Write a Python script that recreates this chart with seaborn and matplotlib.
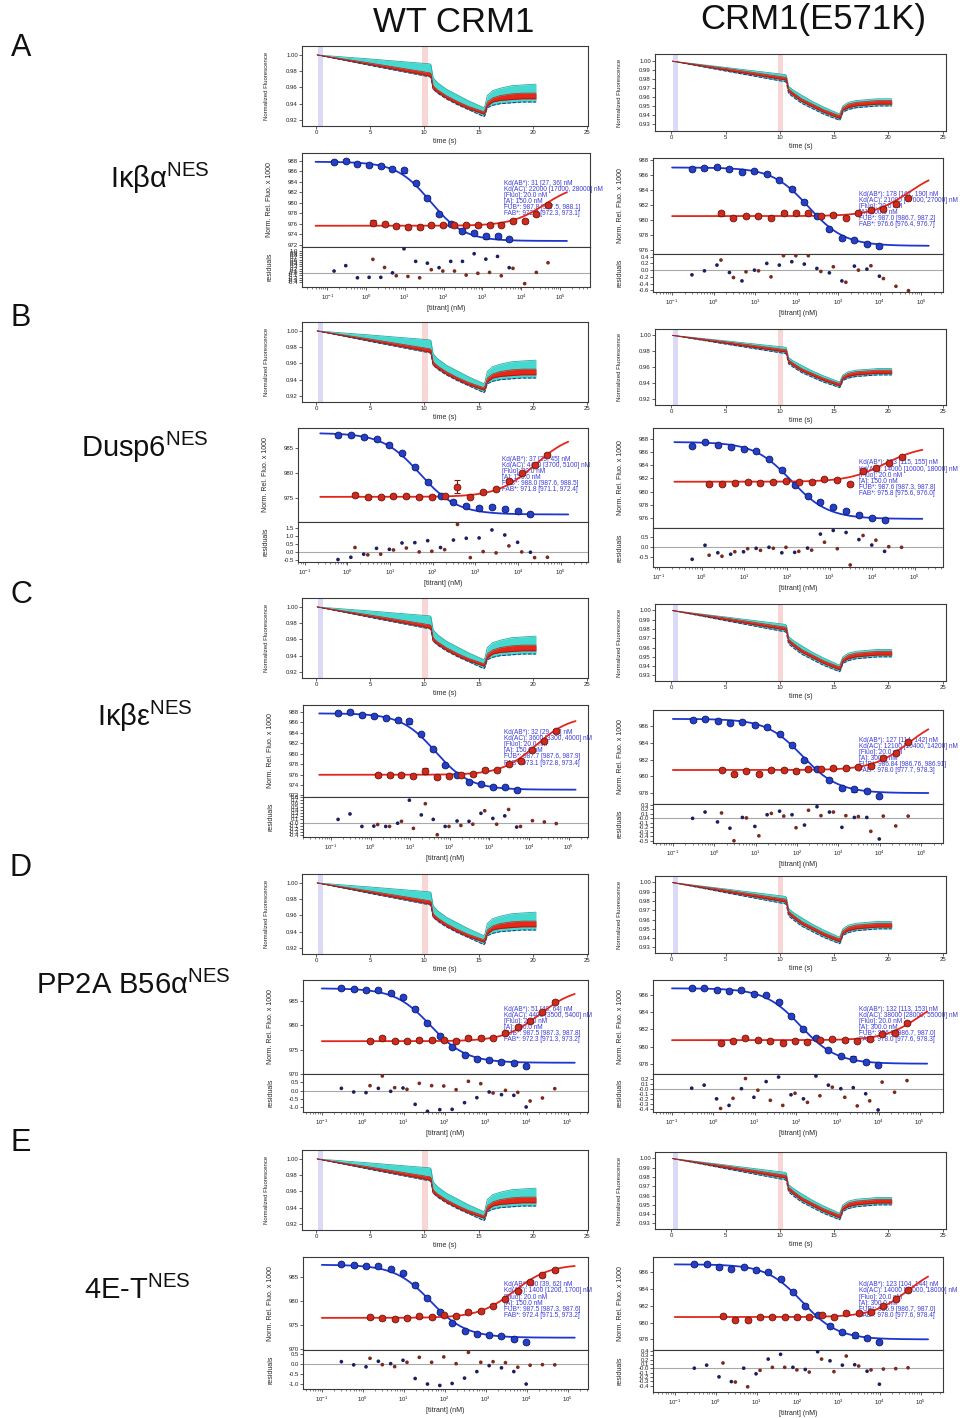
import numpy as np
import matplotlib
matplotlib.use("Agg")
import matplotlib.pyplot as plt
import matplotlib.ticker as mticker
import seaborn as sns

sns.set_theme(style="ticks")
plt.rcParams['font.family'] = ['Liberation Sans', 'DejaVu Sans']
plt.rcParams['mathtext.fontset'] = 'custom'
plt.rcParams['mathtext.rm'] = 'Liberation Sans'
plt.rcParams['mathtext.it'] = 'Liberation Sans:italic'
plt.rcParams['mathtext.bf'] = 'Liberation Sans:bold'

# ---------------- titration concentrations (nM) ----------------
conc_blue_lo = [0.15, 0.3, 0.6, 1.2, 2.4, 4.8, 9.5, 19, 38, 76, 152, 305, 610, 1220, 2440, 4880]
conc_blue_mid = [0.3, 0.6, 1.2, 2.4, 4.8, 9.6, 19, 38, 76, 152, 305, 610, 1220, 2440, 4880, 9760]
conc_blue_hi = [0.6, 1.2, 2.4, 4.8, 9.6, 19, 38, 76, 152, 305, 610, 1220, 2440, 4880, 9760, 19500]
conc_red = [1.5, 3, 6, 12, 24, 48, 95, 190, 380, 760, 1520, 3050, 6100, 12200, 24400, 48800]

# ---------------- A: IkBa NES ----------------
blue_a_wt = [987.75, 988.0, 987.4, 987.2, 987.0, 986.5, 986.2, 983.7, 980.9, 977.8, 976.0, 974.6, 974.3, 973.6, 973.6, 973.0]
red_a_wt = [976.2, 975.9, 975.5, 975.35, 975.35, 975.7, 975.7, 975.7, 975.7, 975.7, 975.8, 975.8, 976.5, 976.5, 977.8, 979.6]
resb_a_wt = [0.09, 0.33, -0.21, -0.19, -0.19, 0.01, 1.08, 0.52, 0.44, 0.24, 0.52, 0.52, 0.86, 0.62, 0.74, 0.24]
resr_a_wt = [0.61, 0.25, -0.12, -0.15, -0.21, 0.15, 0.09, 0.09, -0.09, -0.01, 0.03, -0.12, 0.21, -0.47, 0.03, 0.46]
fitb_a_wt = [987.8, 972.7, 45]
fitr_a_wt = [975.6, 8.1, 40000]
ann_a_wt = ["Kd(AB*): 31 [27, 36] nM", "Kd(AC): 22000 [17000, 28000] nM", "[Fluo]: 20.0 nM",
            "[A]: 150.0 nM", "FUB*: 987.8 [987.5, 988.1]", "FAB*: 972.7 [972.3, 973.1]"]

blue_a_mut = [986.84, 986.9, 987.0, 986.75, 986.4, 986.5, 986.2, 985.4, 984.2, 982.45, 980.6, 978.8, 977.6, 977.4, 976.9, 976.55]
red_a_mut = [980.9, 980.35, 980.5, 980.5, 980.35, 980.97, 980.97, 980.97, 980.5, 980.75, 980.35, 980.97, 981.4, 981.55, 982.1, 982.95]
resb_a_mut = [-0.14, -0.02, 0.15, -0.07, -0.32, 0.0, 0.2, 0.15, 0.25, 0.18, 0.05, -0.08, -0.32, 0.12, 0.03, -0.18]
resr_a_mut = [0.3, -0.22, -0.05, -0.02, -0.2, 0.43, 0.43, 0.43, -0.04, 0.1, -0.36, 0.0, 0.13, -0.25, -0.48, -0.61]
fitb_a_mut = [987.0, 976.6, 190]
fitr_a_mut = [980.55, 6.33, 50000]
ann_a_mut = ["Kd(AB*): 178 [167, 190] nM", "Kd(AC): 21000 [17000, 27000] nM", "[Fluo]: 20.0 nM",
             "[A]: 300.0 nM", "FUB*: 987.0 [986.7, 987.2]", "FAB*: 976.6 [976.4, 976.7]"]

# ---------------- B: Dusp6 NES ----------------
blue_b_wt = [987.53, 987.53, 987.2, 986.8, 985.67, 984.0, 981.2, 978.33, 975.5, 974.33, 973.47, 973.13, 973.33, 972.87, 972.47, 971.8]
red_b_wt = [975.67, 975.2, 975.2, 975.4, 975.47, 975.2, 975.33, 975.47, 977.33, 975.33, 976.2, 976.8, 978.47, 980.0, 981.6, 983.67]
resb_b_wt = [-0.47, -0.33, -0.14, 0.22, 0.16, 0.55, 0.57, 0.69, 0.27, 0.73, 0.84, 0.86, 1.35, 1.04, 0.59, -0.02]
resr_b_wt = [0.27, -0.18, -0.14, 0.12, 0.24, 0.0, 0.04, 0.14, 1.69, -0.35, 0.02, -0.06, 0.37, 0.0, -0.35, -0.33]
fitb_b_wt = [988.0, 971.8, 50]
fitr_b_wt = [975.3, 12.8, 25000]
ann_b_wt = ["Kd(AB*): 37 [29, 45] nM", "Kd(AC): 4400 [3700, 5100] nM", "[Fluo]: 20.0 nM",
            "[A]: 150.0 nM", "FUB*: 988.0 [987.6, 988.5]", "FAB*: 971.8 [971.1, 972.4]"]

blue_b_mut = [987.04, 987.6, 987.1, 986.83, 986.58, 986.17, 985.0, 983.26, 981.06, 979.38, 978.46, 977.64, 977.08, 976.47, 975.96, 975.7]
red_b_mut = [981.16, 981.16, 981.27, 981.47, 981.37, 981.52, 981.57, 981.47, 981.47, 981.88, 981.78, 981.16, 983.1, 983.6, 984.38, 985.3]
resb_b_mut = [-0.62, 0.07, -0.3, -0.37, -0.25, -0.08, -0.03, -0.3, -0.28, -0.07, 0.62, 0.8, 0.7, 0.35, 0.08, -0.23]
resr_b_mut = [-0.42, -0.47, -0.25, -0.1, -0.18, -0.08, -0.03, -0.23, -0.17, 0.22, -0.1, -0.9, 0.55, 0.32, 0.0, -0.03]
fitb_b_mut = [987.6, 975.8, 125]
fitr_b_mut = [981.5, 5.55, 20000]
ann_b_mut = ["Kd(AB*): 133 [115, 155] nM", "Kd(AC): 14000 [10000, 18000] nM", "[Fluo]: 20.0 nM",
             "[A]: 150.0 nM", "FUB*: 987.6 [987.3, 987.8]", "FAB*: 975.8 [975.6, 976.0]"]

# ---------------- C: IkBe NES ----------------
blue_c_wt = [987.7, 987.9, 987.3, 987.26, 986.87, 986.37, 986.2, 983.7, 980.84, 977.8, 975.95, 974.6, 974.24, 973.6, 973.6, 973.1]
red_c_wt = [975.9, 975.83, 975.95, 975.76, 976.7, 975.45, 975.76, 975.9, 976.08, 976.9, 976.78, 977.99, 978.6, 980.6, 982.4, 984.3]
resb_c_wt = [0.1, 0.27, -0.12, -0.11, -0.12, -0.02, 0.7, 0.24, 0.1, -0.12, 0.05, 0.04, 0.29, 0.13, 0.21, -0.14]
resr_c_wt = [-0.06, -0.12, 0.04, -0.18, 0.59, -0.38, -0.12, -0.09, -0.05, 0.37, -0.05, 0.41, -0.12, 0.06, 0.02, -0.03]
fitb_c_wt = [987.7, 973.1, 43]
fitr_c_wt = [975.95, 11.3, 15000]
ann_c_wt = ["Kd(AB*): 32 [29, 35] nM", "Kd(AC): 3600 [3300, 4000] nM", "[Fluo]: 20.0 nM",
            "[A]: 150.0 nM", "FUB*: 987.7 [987.6, 987.9]", "FAB*: 973.1 [972.8, 973.4]"]

blue_c_mut = [986.76, 986.88, 986.64, 986.4, 986.52, 986.09, 985.85, 985.05, 983.75, 981.92, 980.89, 979.58, 978.59, 978.47, 978.27, 977.6]
red_c_mut = [980.81, 980.25, 980.69, 980.33, 980.77, 980.77, 980.61, 980.85, 980.85, 980.93, 980.97, 981.09, 981.24, 982.16, 982.83, 984.1]
resb_c_mut = [0.0, 0.14, -0.08, -0.22, 0.02, -0.18, 0.08, 0.16, 0.08, -0.15, 0.26, 0.14, -0.2, 0.02, 0.02, -0.46]
resr_c_mut = [0.12, -0.5, 0.01, -0.39, 0.11, 0.05, -0.21, 0.18, 0.06, 0.14, 0.06, 0.04, -0.29, 0.05, -0.17, 0.05]
fitb_c_mut = [986.84, 978.0, 135]
fitr_c_mut = [980.75, 6.47, 50000]
ann_c_mut = ["Kd(AB*): 127 [114, 142] nM", "Kd(AC): 12100 [10400, 14200] nM", "[Fluo]: 20.0 nM",
             "[A]: 300.0 nM", "FUB*: 986.84 [986.76, 986.91]", "FAB*: 978.0 [977.7, 978.3]"]

# ---------------- D: PP2A B56a NES ----------------
blue_d_wt = [987.5, 987.3, 987.1, 987.1, 986.47, 985.7, 983.32, 980.5, 977.77, 975.45, 973.94, 973.12, 972.84, 972.5, 972.23, 971.6]
red_d_wt = [976.82, 977.36, 976.68, 976.68, 977.02, 976.88, 976.88, 976.82, 977.43, 977.43, 977.43, 978.32, 979.5, 980.8, 982.64, 984.76]
resb_d_wt = [0.14, -0.08, -0.12, 0.14, -0.04, 0.16, -0.82, -1.24, -1.14, -1.12, -0.72, -0.42, -0.08, -0.24, -0.28, -0.98]
resr_d_wt = [0.3, 0.88, 0.18, 0.08, 0.44, 0.3, 0.28, 0.06, 0.56, 0.42, -0.14, 0.02, -0.1, -0.62, -0.44, 0.12]
fitb_d_wt = [987.5, 972.3, 45]
fitr_d_wt = [976.7, 11.0, 21000]
ann_d_wt = ["Kd(AB*): 51 [40, 64] nM", "Kd(AC): 4400 [3500, 5400] nM", "[Fluo]: 20.0 nM",
            "[A]: 150.0 nM", "FUB*: 987.5 [987.3, 987.8]", "FAB*: 972.3 [971.3, 973.2]"]

blue_d_mut = [986.8, 986.8, 986.6, 986.49, 986.57, 986.18, 986.02, 985.24, 983.61, 982.01, 980.96, 979.6, 978.9, 978.59, 978.16, 977.85]
red_d_mut = [980.46, 980.65, 981.0, 980.73, 980.61, 980.46, 980.69, 980.54, 980.73, 980.85, 980.73, 980.65, 980.85, 981.47, 981.62, 982.79]
resb_d_mut = [0.02, 0.08, -0.19, -0.32, 0.01, -0.16, 0.15, 0.24, -0.11, -0.19, 0.26, 0.08, 0.01, 0.03, -0.09, -0.41]
resr_d_mut = [-0.38, -0.18, 0.21, -0.02, -0.22, -0.32, -0.08, -0.26, -0.13, 0.04, -0.16, -0.33, -0.23, 0.14, -0.06, 0.17]
fitb_d_mut = [986.8, 978.0, 130]
fitr_d_mut = [980.75, 5.55, 100000]
ann_d_mut = ["Kd(AB*): 132 [113, 153] nM", "Kd(AC): 38000 [28000, 55000] nM", "[Fluo]: 20.0 nM",
             "[A]: 300.0 nM", "FUB*: 986.8 [986.7, 987.0]", "FAB*: 978.0 [977.6, 978.3]"]

# ---------------- E: 4E-T NES ----------------
blue_e_wt = [987.57, 987.36, 987.16, 987.16, 986.53, 985.78, 983.36, 980.67, 977.78, 975.43, 973.78, 973.16, 972.95, 972.67, 972.12, 971.43]
red_e_wt = [976.67, 976.4, 976.33, 976.53, 976.81, 976.67, 977.02, 976.81, 977.78, 977.91, 979.02, 980.4, 982.12, 983.98, 985.36, 986.33]
resb_e_wt = [0.13, -0.03, -0.13, 0.15, 0.03, 0.2, -0.72, -1.0, -1.07, -0.97, -0.7, -0.37, -0.07, -0.18, -0.37, -1.0]
resr_e_wt = [0.3, -0.02, -0.12, 0.1, 0.35, 0.1, 0.37, 0.03, 0.6, 0.1, 0.13, 0.08, -0.15, -0.05, -0.02, -0.03]
fitb_e_wt = [987.5, 972.4, 45]
fitr_e_wt = [976.5, 11.1, 5000]
ann_e_wt = ["Kd(AB*): 50 [39, 62] nM", "Kd(AC): 1400 [1200, 1700] nM", "[Fluo]: 20.0 nM",
            "[A]: 150.0 nM", "FUB*: 987.5 [987.3, 987.6]", "FAB*: 972.4 [971.5, 973.2]"]

blue_e_mut = [986.9, 986.9, 986.55, 986.39, 986.59, 986.19, 985.99, 985.21, 983.63, 981.98, 980.88, 979.62, 978.83, 978.51, 978.12, 977.73]
red_e_mut = [980.75, 980.3, 980.25, 980.6, 980.65, 980.65, 980.6, 980.6, 980.9, 980.65, 981.1, 981.1, 981.3, 981.9, 982.8, 983.85]
resb_e_mut = [0.0, 0.07, -0.2, -0.31, 0.0, -0.13, 0.21, 0.32, 0.02, -0.03, 0.38, 0.17, 0.07, 0.08, -0.07, -0.37]
resr_e_mut = [0.12, -0.32, -0.43, -0.05, 0.02, 0.02, -0.04, -0.09, 0.21, -0.08, 0.28, 0.05, -0.04, -0.02, -0.01, 0.01]
fitb_e_mut = [986.9, 978.0, 128]
fitr_e_mut = [980.65, 6.4, 50000]
ann_e_mut = ["Kd(AB*): 123 [104, 144] nM", "Kd(AC): 14000 [11000, 18000] nM", "[Fluo]: 20.0 nM",
             "[A]: 300.0 nM", "FUB*: 986.9 [986.7, 987.0]", "FAB*: 978.0 [977.6, 978.4]"]

# error bars: typical size per column, plus the few visibly larger ones
err_wt = 0.3
err_mut = 0.17
wide_errors = [("a_wt", "b", 6, 0.5), ("a_wt", "b", 13, 0.45), ("a_wt", "b", 14, 0.4), ("a_wt", "r", 0, 0.45),
               ("b_wt", "r", 8, 1.3), ("b_wt", "b", 10, 0.45), ("b_wt", "b", 11, 0.45), ("b_wt", "b", 13, 0.45),
               ("c_wt", "b", 6, 0.5), ("c_wt", "r", 4, 0.55), ("c_wt", "b", 13, 0.45),
               ("d_wt", "r", 1, 0.5), ("d_wt", "b", 13, 0.45), ("d_wt", "b", 14, 0.45),
               ("a_mut", "r", 0, 0.3), ("b_mut", "r", 11, 0.35), ("c_mut", "b", 13, 0.3), ("d_mut", "b", 13, 0.3),
               ("e_mut", "b", 13, 0.3)]

# ---------------- stopped-flow style traces (envelopes of trace bundles) ----------------
time_knots = [0.1, 5, 10.5, 10.6, 10.8, 11.2, 12, 13, 14, 15.5, 15.6, 15.8, 16.3, 17, 18, 19, 20.3]
cyan_hi_wt = [1.000, 0.995, 0.989, 0.988, 0.972, 0.966, 0.958, 0.951, 0.944, 0.935, 0.938, 0.950, 0.956, 0.959, 0.962, 0.963, 0.964]
cyan_lo_wt = [1.000, 0.987, 0.973, 0.972, 0.958, 0.953, 0.946, 0.939, 0.933, 0.924, 0.926, 0.935, 0.938, 0.940, 0.941, 0.942, 0.942]
red_hi_wt = [1.000, 0.990, 0.978, 0.977, 0.962, 0.957, 0.950, 0.943, 0.937, 0.930, 0.933, 0.942, 0.947, 0.950, 0.952, 0.953, 0.953]
red_lo_wt = [1.000, 0.988, 0.974, 0.973, 0.958, 0.954, 0.947, 0.940, 0.934, 0.927, 0.929, 0.937, 0.942, 0.944, 0.945, 0.946, 0.946]
cyan_hi_mut = [1.000, 0.993, 0.985, 0.984, 0.972, 0.968, 0.962, 0.955, 0.949, 0.941, 0.944, 0.950, 0.954, 0.956, 0.957, 0.958, 0.958]
cyan_lo_mut = [1.000, 0.989, 0.977, 0.976, 0.964, 0.960, 0.953, 0.947, 0.941, 0.934, 0.936, 0.943, 0.946, 0.948, 0.949, 0.950, 0.950]
red_hi_mut = [1.000, 0.992, 0.982, 0.981, 0.969, 0.965, 0.958, 0.952, 0.946, 0.939, 0.942, 0.948, 0.952, 0.954, 0.955, 0.956, 0.956]
red_lo_mut = [1.000, 0.990, 0.979, 0.978, 0.966, 0.962, 0.955, 0.949, 0.943, 0.936, 0.938, 0.945, 0.948, 0.950, 0.951, 0.952, 0.952]

row_letters = ["A", "B", "C", "D", "E"]
row_names = [r"Iκβα$^{\mathregular{NES}}$", r"Dusp6$^{\mathregular{NES}}$", r"Iκβε$^{\mathregular{NES}}$",
             r"PP2A B56α$^{\mathregular{NES}}$", r"4E-T$^{\mathregular{NES}}$"]
col_titles = ["WT CRM1", "CRM1(E571K)"]

# ---------------- figure ----------------
W, H = 967, 1418
fig = plt.figure(figsize=(W / 100, H / 100), dpi=100)


def add_ax(l, t, r, b):
    return fig.add_axes([l / W, 1 - b / H, (r - l) / W, (b - t) / H])


BLUE_LINE = "#1c36cf"
RED_LINE = "#e3261b"
BLUE_PT = "#2440c8"
RED_PT = "#cf2a1c"
TXT_BLUE = "#3b3bd6"
FRAME = "#3a3a3a"
TICK_FS = 4.3
LAB_FS = 5.0


def frame(ax):
    for s in ax.spines.values():
        s.set_visible(True)
        s.set_color(FRAME)
        s.set_linewidth(0.8)
    ax.tick_params(axis="both", labelsize=TICK_FS, length=2, width=0.5, pad=1, colors="#222222")


def draw_time(ax, col, ylim, yticks, xlim):
    if col == 0:
        chi, clo, rhi, rlo = cyan_hi_wt, cyan_lo_wt, red_hi_wt, red_lo_wt
    else:
        chi, clo, rhi, rlo = cyan_hi_mut, cyan_lo_mut, red_hi_mut, red_lo_mut
    ax.axvspan(0.15, 0.6, color="#dadaf6", lw=0, zorder=0)
    ax.axvspan(9.8, 10.3, color="#f8d6d6", lw=0, zorder=0)
    ax.fill_between(time_knots, clo, chi, color="#45d9cf", lw=0, zorder=1)
    sns.lineplot(x=time_knots, y=clo, ax=ax, color="#24307e", lw=0.7, ls="--", zorder=2)
    sns.lineplot(x=time_knots, y=chi, ax=ax, color="#2aa9a2", lw=0.6, zorder=2)
    ax.fill_between(time_knots, rlo, rhi, color="#e5281a", lw=0, zorder=3)
    sns.lineplot(x=time_knots, y=rlo, ax=ax, color="#9e1a12", lw=0.6, zorder=4)
    sns.lineplot(x=time_knots, y=rhi, ax=ax, color="#c41e12", lw=0.5, zorder=4)
    ax.set_xlim(*xlim)
    ax.set_ylim(*ylim)
    ax.set_xticks([0, 5, 10, 15, 20, 25])
    ax.set_yticks(yticks)
    ax.yaxis.set_major_formatter(mticker.FormatStrFormatter("%.2f"))
    frame(ax)
    ax.set_xlabel("time (s)", fontsize=LAB_FS, labelpad=2)
    ax.set_ylabel("Normalized Fluorescence", fontsize=4.3, labelpad=2)
    ax.yaxis.set_label_coords(-0.115, 0.5)


def draw_binding(ax_m, ax_r, key, xb, blue, red, rb, rr, fb, fr, ann, cfg):
    lo, hi = cfg["xlim"]
    err = err_wt if key.endswith("wt") else err_mut
    eb = [err] * len(blue)
    er = [err] * len(red)
    for k, s, i, v in wide_errors:
        if k == key:
            (eb if s == "b" else er)[i] = v
    for ax in (ax_m, ax_r):
        ax.set_xscale("log")
        ax.set_xlim(10 ** lo, 10 ** hi)

    # fitted curves
    xs = np.logspace(np.log10(cfg["fit_start"]), np.log10(1.5e5), 300)
    top, bot, mid = fb
    base, rise, midr = fr
    yb = bot + (top - bot) / (1 + xs / mid)
    yr = base + rise * xs / (xs + midr)
    sns.lineplot(x=xs, y=yb, ax=ax_m, color=BLUE_LINE, lw=1.3, zorder=2)
    sns.lineplot(x=xs, y=yr, ax=ax_m, color=RED_LINE, lw=1.3, zorder=2)

    # fit summary
    y0 = cfg["ann_y"]
    for j, line in enumerate(ann):
        ax_m.text(cfg["ann_x"], y0 - j * 6.1 / cfg["h_main"], line, transform=ax_m.transAxes,
                  fontsize=4.7, color=TXT_BLUE, ha="left", va="center", zorder=1, clip_on=False)

    # data with error bars
    ax_m.errorbar(xb, blue, yerr=eb, fmt="none", ecolor="#152372", elinewidth=0.8,
                  capsize=2.3, capthick=0.8, zorder=3)
    ax_m.errorbar(conc_red, red, yerr=er, fmt="none", ecolor="#6e1a12", elinewidth=0.8,
                  capsize=2.3, capthick=0.8, zorder=3)
    sns.scatterplot(x=xb, y=blue, ax=ax_m, color=BLUE_PT, edgecolor="#0f1a66", s=24,
                    linewidth=0.6, legend=False, zorder=4)
    sns.scatterplot(x=conc_red, y=red, ax=ax_m, color=RED_PT, edgecolor="#6a1610", s=24,
                    linewidth=0.6, legend=False, zorder=4)
    ax_m.set_ylim(*cfg["ylim"])
    ax_m.set_yticks(cfg["yticks"])
    ax_m.yaxis.set_major_formatter(mticker.FormatStrFormatter("%d"))
    frame(ax_m)
    ax_m.tick_params(axis="x", which="both", bottom=False, labelbottom=False)
    ax_m.set_ylabel("Norm. Rel. Fluo. x 1000", fontsize=LAB_FS, labelpad=2)
    ax_m.yaxis.set_label_coords(-0.1, 0.5)

    # residuals
    ax_r.axhline(0, color="#a9a9a9", lw=0.8, zorder=1)
    sns.scatterplot(x=xb, y=rb, ax=ax_r, color="#1b1f5e", edgecolor="none", s=7, legend=False, zorder=3)
    sns.scatterplot(x=conc_red, y=rr, ax=ax_r, color="#7a2a1e", edgecolor="none", s=7, legend=False, zorder=3)
    ax_r.set_ylim(*cfg["rlim"])
    ax_r.set_yticks(cfg["rticks"])
    ax_r.yaxis.set_major_formatter(mticker.FormatStrFormatter("%.1f"))
    decades = [1e-1, 1e0, 1e1, 1e2, 1e3, 1e4, 1e5]
    ax_r.xaxis.set_major_locator(mticker.FixedLocator(decades))
    ax_r.xaxis.set_major_formatter(mticker.FixedFormatter(
        [r"$10^{-1}$", r"$10^{0}$", r"$10^{1}$", r"$10^{2}$", r"$10^{3}$", r"$10^{4}$", r"$10^{5}$"]))
    ax_r.xaxis.set_minor_locator(mticker.LogLocator(base=10, subs=np.arange(2, 10), numticks=20))
    ax_r.xaxis.set_minor_formatter(mticker.NullFormatter())
    frame(ax_r)
    ax_r.tick_params(axis="x", which="minor", length=1.3, width=0.4)
    ax_r.tick_params(axis="x", which="major", pad=2)
    ax_r.set_ylabel("residuals", fontsize=LAB_FS, labelpad=2)
    ax_r.yaxis.set_label_coords(-0.1, 0.5)
    ax_r.set_xlabel("[titrant] (nM)", fontsize=LAB_FS, labelpad=2)


# layout boxes (pixels): time panels, and binding panels (left, top, right, separator, bottom)
time_boxes = [[(302, 46 + 276 * i, 588, 126 + 276 * i) for i in range(5)],
              [(655, 54, 946, 131), (655, 329, 946, 405), (655, 604, 946, 681),
               (655, 876, 946, 953), (655, 1152, 946, 1229)]]
time_ylims = [[(0.9125, 1.011)] * 5,
              [(0.922, 1.008), (0.912, 1.008), (0.924, 1.007), (0.924, 1.007), (0.924, 1.007)]]
time_yticks = [[[0.92, 0.94, 0.96, 0.98, 1.00]] * 5,
               [[0.93, 0.94, 0.95, 0.96, 0.97, 0.98, 0.99, 1.00], [0.92, 0.94, 0.96, 0.98, 1.00],
                [0.93, 0.94, 0.95, 0.96, 0.97, 0.98, 0.99, 1.00], [0.93, 0.94, 0.95, 0.96, 0.97, 0.98, 0.99, 1.00],
                [0.93, 0.94, 0.95, 0.96, 0.97, 0.98, 0.99, 1.00]]]
time_xlims = [(-1.3, 25.1), (-1.5, 25.3)]

bind_boxes = [[(302, 153, 590, 247, 287), (298, 428, 588, 522, 562), (303, 705, 588, 797, 837),
               (303, 980, 588, 1074, 1112), (303, 1257, 588, 1350, 1389)],
              [(653, 158, 943, 254, 292), (653, 428, 943, 528, 567), (653, 710, 943, 804, 843),
               (653, 980, 943, 1074, 1112), (653, 1257, 943, 1350, 1392)]]

panels = [
    ("a_wt", 0, 0, conc_blue_lo, blue_a_wt, red_a_wt, resb_a_wt, resr_a_wt, fitb_a_wt, fitr_a_wt, ann_a_wt,
     dict(xlim=(-1.65, 5.77), fit_start=0.05, ylim=(971.55, 989.47), yticks=range(972, 989, 2),
          rlim=(-0.62, 1.16), rticks=np.round(np.arange(-0.4, 1.01, 0.1), 1), ann_x=0.70, ann_y=0.68)),
    ("a_mut", 0, 1, conc_blue_mid, blue_a_mut, red_a_mut, resb_a_mut, resr_a_mut, fitb_a_mut, fitr_a_mut, ann_a_mut,
     dict(xlim=(-1.46, 5.52), fit_start=0.1, ylim=(975.52, 988.26), yticks=range(976, 989, 2),
          rlim=(-0.65, 0.48), rticks=[-0.6, -0.4, -0.2, 0.0, 0.2, 0.4], ann_x=0.71, ann_y=0.625)),
    ("b_wt", 1, 0, conc_blue_hi, blue_b_wt, red_b_wt, resb_b_wt, resr_b_wt, fitb_b_wt, fitr_b_wt, ann_b_wt,
     dict(xlim=(-1.16, 5.64), fit_start=0.23, ylim=(970.3, 989.0), yticks=[975, 980, 985],
          rlim=(-0.62, 1.84), rticks=[-0.5, 0.0, 0.5, 1.0, 1.5], ann_x=0.705, ann_y=0.67)),
    ("b_mut", 1, 1, conc_blue_hi, blue_b_mut, red_b_mut, resb_b_mut, resr_b_mut, fitb_b_mut, fitr_b_mut, ann_b_mut,
     dict(xlim=(-1.14, 5.66), fit_start=0.23, ylim=(974.4, 989.75), yticks=range(976, 989, 2),
          rlim=(-1.0, 0.92), rticks=[-0.5, 0.0, 0.5], ann_x=0.71, ann_y=0.65)),
    ("c_wt", 2, 0, conc_blue_lo, blue_c_wt, red_c_wt, resb_c_wt, resr_c_wt, fitb_c_wt, fitr_c_wt, ann_c_wt,
     dict(xlim=(-1.71, 5.49), fit_start=0.05, ylim=(971.7, 989.3), yticks=range(972, 989, 2),
          rlim=(-0.45, 0.78), rticks=np.round(np.arange(-0.4, 0.81, 0.1), 1), ann_x=0.705, ann_y=0.70)),
    ("c_mut", 2, 1, conc_blue_mid, blue_c_mut, red_c_mut, resb_c_mut, resr_c_mut, fitb_c_mut, fitr_c_mut, ann_c_mut,
     dict(xlim=(-1.48, 5.53), fit_start=0.1, ylim=(976.7, 987.9), yticks=range(978, 987, 2),
          rlim=(-0.55, 0.32), rticks=np.round(np.arange(-0.5, 0.31, 0.1), 1), ann_x=0.71, ann_y=0.68)),
    ("d_wt", 3, 0, conc_blue_mid, blue_d_wt, red_d_wt, resb_d_wt, resr_d_wt, fitb_d_wt, fitr_d_wt, ann_d_wt,
     dict(xlim=(-1.46, 5.5), fit_start=0.1, ylim=(970.0, 989.2), yticks=[970, 975, 980, 985],
          rlim=(-1.28, 1.0), rticks=[-1.0, -0.5, 0.0, 0.5], ann_x=0.705, ann_y=0.69)),
    ("d_mut", 3, 1, conc_blue_mid, blue_d_mut, red_d_mut, resb_d_mut, resr_d_mut, fitb_d_mut, fitr_d_mut, ann_d_mut,
     dict(xlim=(-1.46, 5.56), fit_start=0.1, ylim=(976.8, 987.77), yticks=range(978, 987, 2),
          rlim=(-0.45, 0.3), rticks=np.round(np.arange(-0.4, 0.21, 0.1), 1), ann_x=0.71, ann_y=0.69)),
    ("e_wt", 4, 0, conc_blue_mid, blue_e_wt, red_e_wt, resb_e_wt, resr_e_wt, fitb_e_wt, fitr_e_wt, ann_e_wt,
     dict(xlim=(-1.46, 5.5), fit_start=0.1, ylim=(969.85, 989.1), yticks=[970, 975, 980, 985],
          rlim=(-1.25, 0.72), rticks=[-1.0, -0.5, 0.0, 0.5], ann_x=0.705, ann_y=0.70)),
    ("e_mut", 4, 1, conc_blue_mid, blue_e_mut, red_e_mut, resb_e_mut, resr_e_mut, fitb_e_mut, fitr_e_mut, ann_e_mut,
     dict(xlim=(-1.53, 5.54), fit_start=0.1, ylim=(976.74, 987.77), yticks=range(978, 987, 2),
          rlim=(-0.55, 0.42), rticks=np.round(np.arange(-0.4, 0.41, 0.1), 1), ann_x=0.71, ann_y=0.70)),
]

for col in range(2):
    for row in range(5):
        l, t, r, b = time_boxes[col][row]
        draw_time(add_ax(l, t, r, b), col, time_ylims[col][row], time_yticks[col][row], time_xlims[col])

for key, row, col, xb, blue, red, rb, rr, fb, fr, ann, cfg in panels:
    l, t, r, sep, b = bind_boxes[col][row]
    ax_m = add_ax(l, t, r, sep)
    ax_r = add_ax(l, sep, r, b)
    cfg["h_main"] = sep - t
    draw_binding(ax_m, ax_r, key, xb, blue, red, rb, rr, fb, fr, ann, cfg)

# column headers, row letters and construct names
fig.text(454 / W, 1 - 22 / H, col_titles[0], fontsize=25, ha="center", va="center", color="#111111")
fig.text(813 / W, 1 - 20 / H, col_titles[1], fontsize=25, ha="center", va="center", color="#111111")
letter_y = [48, 318, 595, 868, 1143]
name_pos = [(160, 178), (145, 447), (145, 716), (133, 985), (137, 1290)]
for i in range(5):
    fig.text(21 / W, 1 - letter_y[i] / H, row_letters[i], fontsize=22, ha="center", va="center", color="#111111")
    fig.text(name_pos[i][0] / W, 1 - name_pos[i][1] / H, row_names[i], fontsize=21,
             ha="center", va="center", color="#111111")

fig.savefig("out.png", dpi=100, facecolor="white")
